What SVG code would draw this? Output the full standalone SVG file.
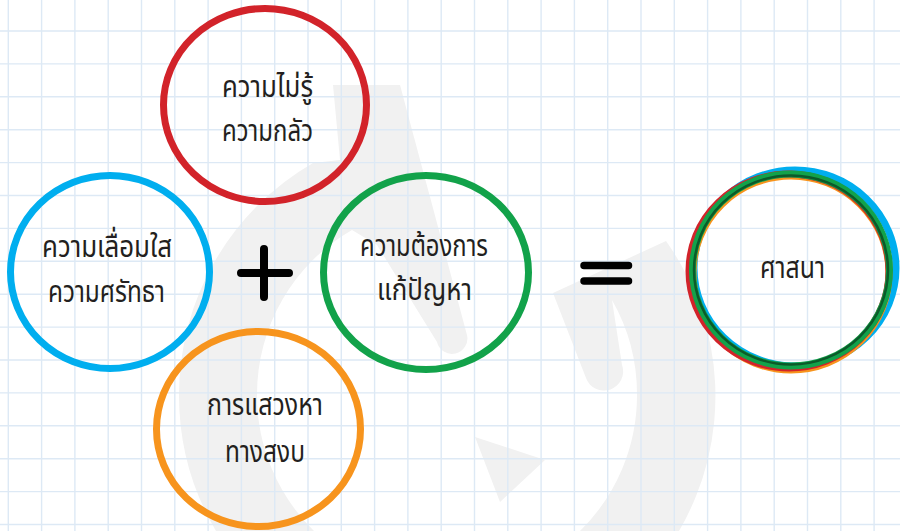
<svg xmlns="http://www.w3.org/2000/svg" width="900" height="531" viewBox="0 0 900 531">
<defs>
<style>
.grid line{stroke:#dde9f5;stroke-width:1.4}
.wm{fill:#f1f1f1}
.ring{fill:none;stroke-width:7;stroke-linejoin:round}
.lbl{font-family:"Noto Sans Thai","Noto Sans Thai Looped","Noto Sans","Noto Sans CJK SC",sans-serif;font-size:30px;fill:#231f20;text-anchor:middle}
.op{stroke:#000;stroke-linecap:round;fill:none}
</style>
</defs>
<rect width="900" height="531" fill="#fff"/>
<g id="watermark">
<path class="wm" d="M333,85 L400,85 L467,335 A15,15 0 0 1 437,342 L377,245 L352,230 A190,190 0 0 0 257,395 A190,190 0 0 0 314,531 L216,531 A268,268 0 0 1 179,395 A268,268 0 0 1 313,163 L340,160 Z"/>
<path class="wm" d="M553,293 L666,241 A268,268 0 0 1 679,531 L580,531 A190,190 0 0 0 637,395 A190,190 0 0 0 612,300 L622,365 A18,18 0 0 1 586,378 Z"/>
<path class="wm" d="M475,437 L545,460 L500,502 Z"/>
</g>
<g class="grid">
<line x1="8.3" y1="0" x2="8.3" y2="531"/><line x1="41.6" y1="0" x2="41.6" y2="531"/><line x1="74.9" y1="0" x2="74.9" y2="531"/><line x1="108.2" y1="0" x2="108.2" y2="531"/><line x1="141.5" y1="0" x2="141.5" y2="531"/><line x1="174.8" y1="0" x2="174.8" y2="531"/><line x1="208.1" y1="0" x2="208.1" y2="531"/><line x1="241.4" y1="0" x2="241.4" y2="531"/><line x1="274.7" y1="0" x2="274.7" y2="531"/><line x1="308" y1="0" x2="308" y2="531"/><line x1="341.3" y1="0" x2="341.3" y2="531"/><line x1="374.6" y1="0" x2="374.6" y2="531"/><line x1="407.9" y1="0" x2="407.9" y2="531"/><line x1="441.2" y1="0" x2="441.2" y2="531"/><line x1="474.5" y1="0" x2="474.5" y2="531"/><line x1="507.8" y1="0" x2="507.8" y2="531"/><line x1="541.1" y1="0" x2="541.1" y2="531"/><line x1="574.4" y1="0" x2="574.4" y2="531"/><line x1="607.7" y1="0" x2="607.7" y2="531"/><line x1="641" y1="0" x2="641" y2="531"/><line x1="674.3" y1="0" x2="674.3" y2="531"/><line x1="707.6" y1="0" x2="707.6" y2="531"/><line x1="740.9" y1="0" x2="740.9" y2="531"/><line x1="774.2" y1="0" x2="774.2" y2="531"/><line x1="807.5" y1="0" x2="807.5" y2="531"/><line x1="840.8" y1="0" x2="840.8" y2="531"/><line x1="874.1" y1="0" x2="874.1" y2="531"/>
<line x1="0" y1="31" x2="900" y2="31"/><line x1="0" y1="63.9" x2="900" y2="63.9"/><line x1="0" y1="96.8" x2="900" y2="96.8"/><line x1="0" y1="129.7" x2="900" y2="129.7"/><line x1="0" y1="162.6" x2="900" y2="162.6"/><line x1="0" y1="195.5" x2="900" y2="195.5"/><line x1="0" y1="228.4" x2="900" y2="228.4"/><line x1="0" y1="261.3" x2="900" y2="261.3"/><line x1="0" y1="294.2" x2="900" y2="294.2"/><line x1="0" y1="327.1" x2="900" y2="327.1"/><line x1="0" y1="360" x2="900" y2="360"/><line x1="0" y1="392.9" x2="900" y2="392.9"/><line x1="0" y1="425.8" x2="900" y2="425.8"/><line x1="0" y1="458.7" x2="900" y2="458.7"/><line x1="0" y1="491.6" x2="900" y2="491.6"/><line x1="0" y1="524.5" x2="900" y2="524.5"/>
</g>
<g id="ignorance">
<ellipse class="ring" cx="265" cy="105" rx="101.5" ry="96.5" stroke="#d2232a"/>
<text class="lbl" x="267.5" y="97" textLength="91" lengthAdjust="spacingAndGlyphs">ความไม่รู้</text>
<text class="lbl" x="267.5" y="141" textLength="91" lengthAdjust="spacingAndGlyphs">ความกลัว</text>
</g>
<g id="faith">
<ellipse class="ring" cx="110" cy="272" rx="99.5" ry="96.5" stroke="#00aeef"/>
<text class="lbl" x="107" y="257" textLength="130" lengthAdjust="spacingAndGlyphs">ความเลื่อมใส</text>
<text class="lbl" x="106.5" y="302" textLength="117" lengthAdjust="spacingAndGlyphs">ความศรัทธา</text>
</g>
<g id="need">
<ellipse class="ring" cx="426" cy="272.5" rx="102.5" ry="97" stroke="#12a24a"/>
<text class="lbl" x="424" y="256" textLength="128" lengthAdjust="spacingAndGlyphs">ความต้องการ</text>
<text class="lbl" x="424.5" y="300" textLength="95" lengthAdjust="spacingAndGlyphs">แก้ปัญหา</text>
</g>
<g id="peace">
<ellipse class="ring" cx="258.5" cy="429" rx="102" ry="97.5" stroke="#f7941d"/>
<text class="lbl" x="265" y="415" textLength="116" lengthAdjust="spacingAndGlyphs">การแสวงหา</text>
<text class="lbl" x="265" y="462" textLength="80" lengthAdjust="spacingAndGlyphs">ทางสงบ</text>
</g>
<g id="operators">
<path class="op" stroke-width="8" d="M264,249 V297 M241,273 H289"/>
<path class="op" stroke-width="7.5" d="M584,265.5 H628.5 M584,281 H628.5"/>
</g>
<g id="religion">
<ellipse class="ring" cx="795" cy="268" rx="101" ry="98" stroke="#00aeef"/>
<ellipse class="ring" cx="791" cy="273" rx="98" ry="97" stroke="#f7941d"/>
<ellipse class="ring" cx="789" cy="271" rx="100" ry="97" stroke="#d2232a"/>
<ellipse class="ring" cx="791" cy="270" rx="98.5" ry="96" stroke="#12a24a"/>
<ellipse cx="791" cy="270" rx="97" ry="94.5" fill="none" stroke="#0b5a2a" stroke-width="2.5"/>
<text class="lbl" x="792.5" y="278" textLength="65" lengthAdjust="spacingAndGlyphs">ศาสนา</text>
</g>
</svg>
